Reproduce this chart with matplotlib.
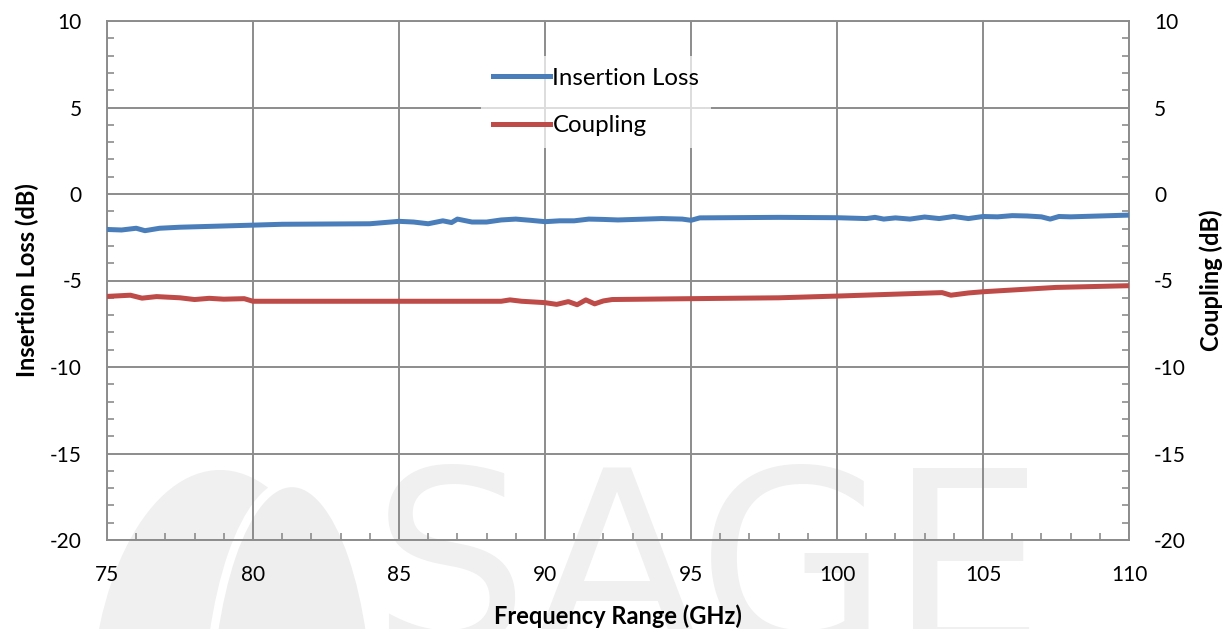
import matplotlib
matplotlib.use("Agg")
import matplotlib.pyplot as plt
import matplotlib.patches as mpatches

plt.rcParams['font.family'] = ['Lato', 'DejaVu Sans']
plt.rcParams['axes.unicode_minus'] = False

# insertion loss (dB) vs frequency (GHz)
il_freq = [75, 75.5, 76, 76.3, 76.8, 77.5, 80, 81, 84, 85, 85.5, 86, 86.5, 86.8,
           87, 87.5, 88, 88.5, 89, 89.5, 90, 90.5, 91, 91.5, 92, 92.5, 94, 94.7,
           95, 95.3, 98, 100, 101, 101.3, 101.6, 102, 102.5, 103, 103.5, 104,
           104.5, 105, 105.5, 106, 106.5, 107, 107.3, 107.6, 108, 110]
il_db = [-2.05, -2.08, -1.98, -2.12, -1.98, -1.92, -1.8, -1.75, -1.72, -1.58,
         -1.62, -1.72, -1.55, -1.65, -1.45, -1.62, -1.62, -1.5, -1.45, -1.52,
         -1.6, -1.55, -1.55, -1.45, -1.47, -1.5, -1.42, -1.45, -1.52, -1.38,
         -1.35, -1.37, -1.42, -1.35, -1.45, -1.38, -1.45, -1.33, -1.42, -1.3,
         -1.42, -1.3, -1.32, -1.25, -1.27, -1.32, -1.45, -1.3, -1.32, -1.22]

# coupling (dB) vs frequency (GHz)
cp_freq = [75, 75.8, 76.2, 76.7, 77.5, 78, 78.5, 79, 79.7, 80, 85, 88.5, 88.8,
           89.2, 90, 90.4, 90.8, 91.1, 91.4, 91.7, 92, 92.3, 95, 98, 100, 103.6,
           103.9, 104.5, 105, 107.5, 110]
cp_db = [-5.92, -5.85, -6.02, -5.93, -6.0, -6.1, -6.03, -6.08, -6.05, -6.2,
         -6.2, -6.2, -6.12, -6.2, -6.28, -6.38, -6.22, -6.4, -6.12, -6.35,
         -6.18, -6.1, -6.05, -6.0, -5.9, -5.7, -5.85, -5.72, -5.65, -5.4, -5.3]

xticks = [75, 80, 85, 90, 95, 100, 105, 110]
yticks = [-20, -15, -10, -5, 0, 5, 10]

W, H = 1231, 629
fig = plt.figure(figsize=(W / 100, H / 100), dpi=100)

# faint logo watermark behind the plot
bg = fig.add_axes([0, 0, 1, 1], zorder=-1)
bg.set_xlim(0, W)
bg.set_ylim(H, 0)
bg.axis('off')
wm = '#f0f0f0'
bg.add_patch(mpatches.Ellipse((220, 720), 260, 500, color=wm, lw=0))
bg.add_patch(mpatches.Ellipse((292, 730), 170, 494, facecolor='#eeeeee',
                              edgecolor='white', lw=6))
bg.text(372, 460, 'SAGE', fontsize=178, color=wm, ha='left', va='top',
        family='DejaVu Sans')

ax = fig.add_axes([107 / W, 1 - 540 / H, (1129 - 107) / W, (540 - 21) / H])
ax.patch.set_alpha(0)

ax.plot(il_freq, il_db, color='#4a7ebb', lw=3.6, label='Insertion Loss', zorder=3,
        solid_joinstyle='round')
ax.plot(cp_freq, cp_db, color='#be4b48', lw=3.6, label='Coupling', zorder=3,
        solid_joinstyle='round')

ax.set_xlim(75, 110)
ax.set_ylim(-20, 10)
ax.set_xticks(xticks)
ax.set_yticks(yticks)
ax.set_xticks(range(75, 111), minor=True)
ax.set_yticks(range(-20, 11), minor=True)
ax.grid(True, which='major', color='#8c8c8c', lw=1.4)
for s in ax.spines.values():
    s.set_color('#8c8c8c')
    s.set_linewidth(1.4)
ax.tick_params(axis='x', which='major', length=0, labelsize=15, pad=18)
ax.tick_params(axis='y', which='major', length=0, labelsize=15, pad=18)
ax.tick_params(which='minor', direction='in', length=5, width=1.2, color='#8c8c8c')

ax.set_xlabel('Frequency Range (GHz)', fontsize=17, fontweight='bold', labelpad=14)
ax.set_ylabel('Insertion Loss (dB)', fontsize=17, fontweight='bold', labelpad=8)

ax2 = ax.twinx()
ax2.set_ylim(-20, 10)
ax2.set_yticks(yticks)
ax2.set_yticks(range(-20, 11), minor=True)
for s in ax2.spines.values():
    s.set_visible(False)
ax2.tick_params(which='major', length=0, labelsize=15, pad=18)
ax2.tick_params(which='minor', direction='in', length=5, width=1.2, color='#8c8c8c')
ax2.set_ylabel('Coupling (dB)', fontsize=17, fontweight='bold', labelpad=10)

leg = ax.legend(loc='upper left', bbox_to_anchor=(0.366, 0.933), frameon=True,
                fontsize=17.3, handlelength=2.35, handletextpad=0.12,
                labelspacing=1.1, borderpad=0.5, borderaxespad=0,
                fancybox=False, framealpha=0.7, facecolor='white', edgecolor='none')

fig.savefig('out.png', dpi=100)
